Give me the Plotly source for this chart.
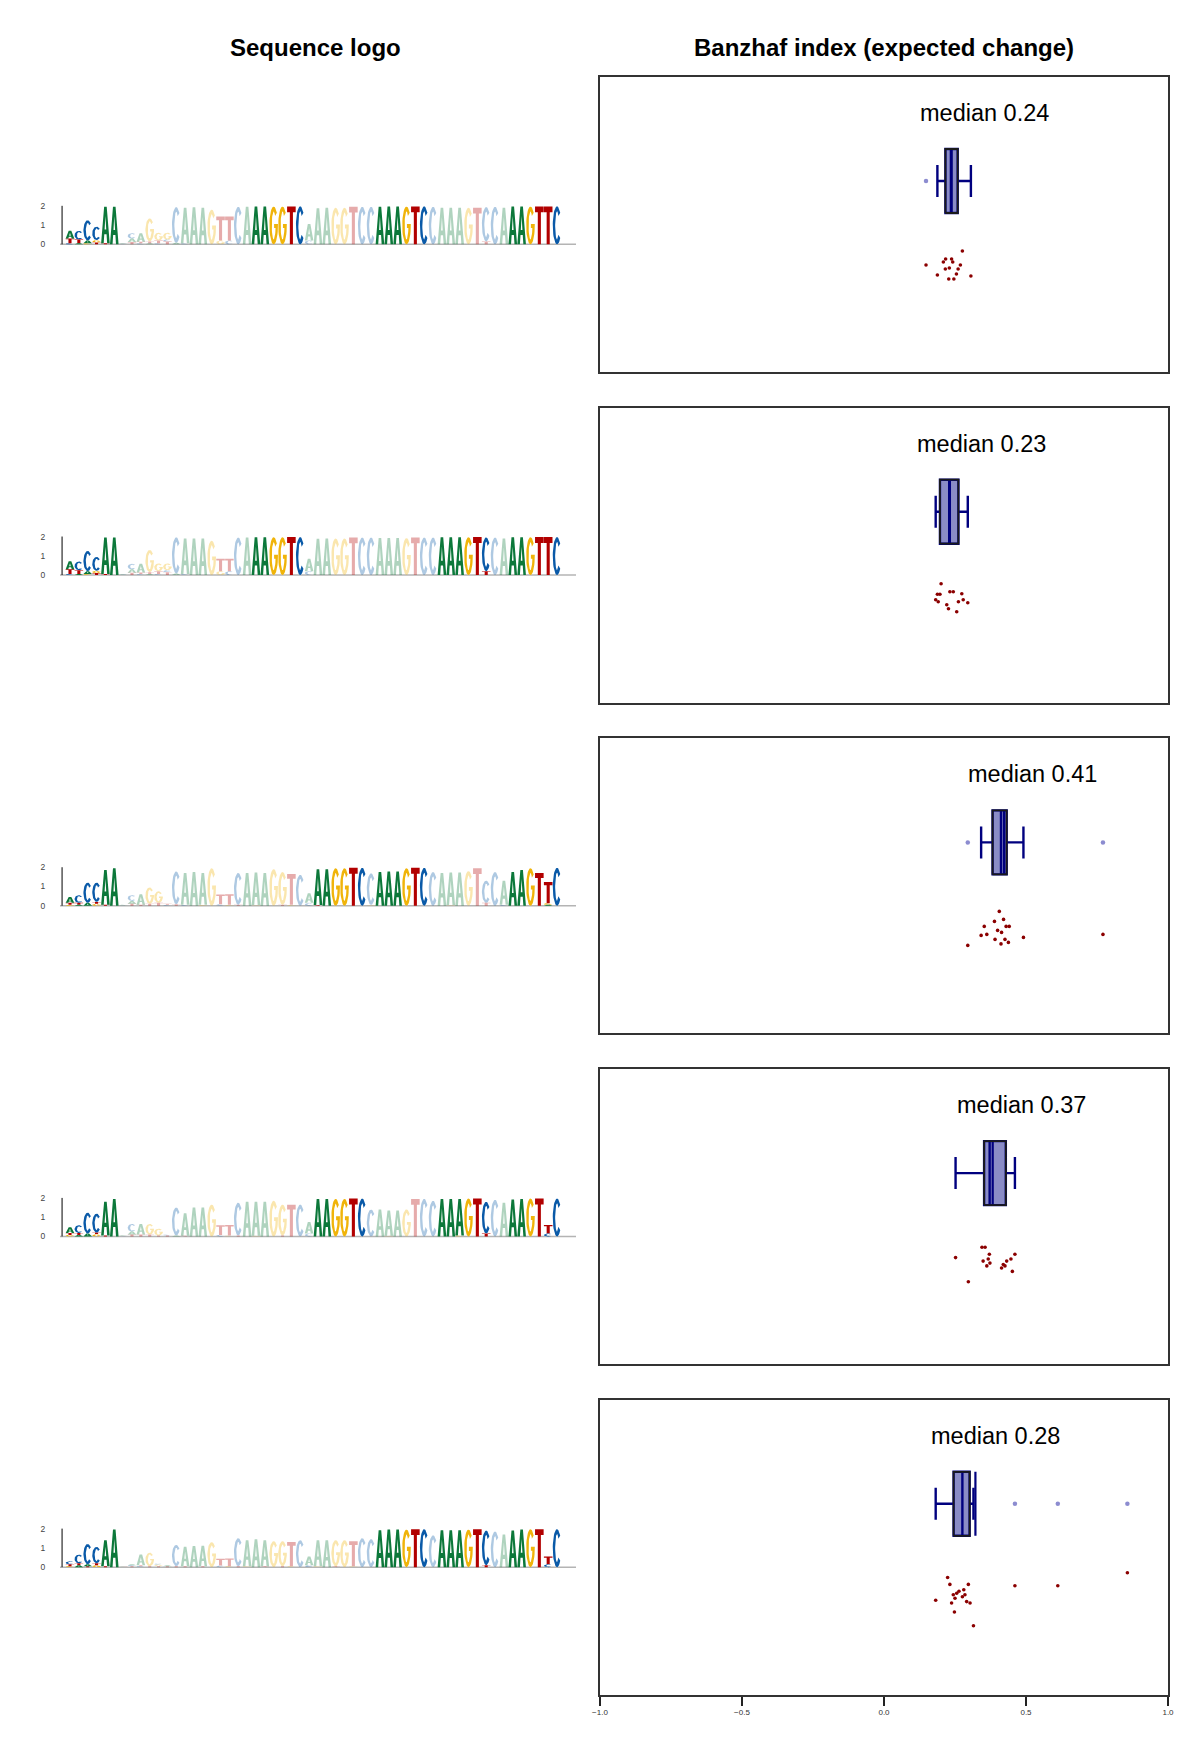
import numpy as np
import plotly.graph_objects as go

# ---------------- data ----------------
POSITIONS = list(range(1, 57))
BIT_TICKS = [0, 1, 2]
X_TICKS = [-1.0, -0.5, 0.0, 0.5, 1.0]
TITLES = ["Sequence logo", "Banzhaf index (expected change)"]

# letter stacks per position, bottom -> top, heights in hundredths of bits
LOGO_1 = [
    "C05 T25 A40", "A05 T20 C45", "G05 A15 C105", "T10 G12 C70", "T05 A190", "A195",
    "C03 A03", "T12 A18 C28", "C05 T08 A45", "A05 T10 G120", "C05 T15 G40", "T15 C10 G35",
    "A08 C185", "C05 A185", "A192", "A190", "G180", "G20 T125", "C20 T125",
    "C195", "A195", "A196", "A196", "G196", "G196", "T197", "C197",
    "C20 A85", "A188", "A190", "G190", "G190", "T195",
    "C195", "C195", "A195", "A196", "A196", "G196", "T197", "C197",
    "C195", "A190", "A190", "A190", "G190", "T190", "T15 C178",
    "C195", "A190", "A196", "A196", "G196", "T197", "T197", "C197"]
LOGO_2 = [
    "C05 T25 A42", "A05 T20 C45", "G05 A15 C105", "T10 G12 C72", "T05 A190", "A195",
    "C03 A03", "T12 A18 C28", "C05 T08 A45", "A05 T10 G115", "C05 T15 G40", "T15 C10 G35",
    "A08 C188", "C05 A185", "A190", "A190", "G178", "G20 T65", "C20 T65",
    "C195", "A195", "A196", "A196", "G196", "G196", "T197", "C197",
    "C20 A65", "A188", "A190", "G190", "G190", "T195",
    "C195", "C195", "A192", "A192", "A192", "G192", "T195", "C195",
    "C195", "A196", "A196", "A196", "G196", "T197", "T20 C175",
    "C195", "A190", "A196", "A196", "G196", "T197", "T197", "C197"]
LOGO_3 = [
    "G05 T10 A30", "A05 T10 C40", "A15 C105", "G10 T10 C100", "T05 A180", "A195",
    "C02 A03", "T10 A15 C30", "T05 A55", "T10 G85", "T15 G60", "C05 T05",
    "T08 C170", "C05 A165", "A175", "G05 A165", "G195", "C08 T50", "G05 T55",
    "T05 C165", "A170", "G04 A168", "A170", "G190", "T05 G170", "G05 T160", "C160",
    "C15 A50", "T04 A186", "A190", "G195", "G195", "T197",
    "C197", "G04 C164", "A175", "A178", "A178", "G195", "T197", "C197",
    "C175", "A170", "G04 A168", "A172", "G180", "T195", "T15 C115",
    "C175", "C05 A125", "A175", "A185", "G195", "T170", "A05 G08 T110", "C197"]
LOGO_4 = [
    "G08 T10 A30", "A08 T10 C40", "A15 C108", "G12 T08 C98", "T05 A175", "A195",
    "C02 A03", "T10 A15 C40", "T10 A55", "T10 G55", "T05 G35", "T05 C05",
    "A05 C145", "T04 A116", "A150", "A150", "G165", "C08 T50", "G05 T55",
    "T05 C170", "A180", "G04 A176", "A180", "G185", "T05 G160", "T165", "C165",
    "C15 A60", "A195", "A195", "G195", "G195", "T197",
    "C197", "C140", "A140", "G04 A131", "A135", "G140", "T195", "C195",
    "C185", "A195", "A195", "G05 A190", "G197", "T197", "T15 C165",
    "C190", "A175", "A192", "A195", "G197", "T197", "C15 T45", "C197"]
LOGO_5 = [
    "G05 T10 C15", "A10 T10 C45", "T05 A10 C105", "G10 T10 C85", "T05 A135", "A195",
    "T03 A02", "T05 C05 A05", "C05 T05 A55", "T05 G70", "T05 G08 C05", "T05 A05",
    "T05 C110", "T05 A101", "A110", "T05 A106", "G130", "C08 T35", "G05 T40",
    "T05 C145", "G04 A136", "A145", "T04 A136", "G135", "T05 G130", "G05 T125", "C140",
    "C10 A45", "G04 A136", "A140", "T04 G136", "G140", "G04 T131",
    "C150", "C145", "A192", "A195", "A195", "G195", "T197", "C197",
    "C165", "A192", "A192", "A192", "G195", "T197", "T10 C180",
    "C185", "A170", "A190", "A195", "G197", "T197", "C15 T40", "C197"]

# saturated (highlighted) position ranges per logo; all others are faded
SAT_1 = [(1, 6), (22, 27), (36, 41), (51, 56)]
SAT_2 = [(1, 6), (22, 27), (43, 48), (51, 56)]
SAT_3 = [(1, 6), (29, 34), (36, 41), (51, 56)]
SAT_4 = [(1, 6), (29, 34), (43, 48), (51, 56)]
SAT_5 = [(1, 6), (36, 41), (43, 48), (51, 56)]

# Banzhaf values per row and their vertical jitter
VALS_1 = [0.148, 0.188, 0.209, 0.216, 0.217, 0.228, 0.230, 0.238, 0.242, 0.246, 0.255, 0.261, 0.269, 0.276, 0.306]
JIT_1 = [-0.84, -0.94, -0.81, -0.88, -0.78, -0.98, -0.87, -0.78, -0.81, -0.98, -0.93, -0.88, -0.84, -0.70, -0.95]
VALS_2 = [0.182, 0.188, 0.191, 0.197, 0.201, 0.221, 0.227, 0.232, 0.244, 0.256, 0.262, 0.274, 0.279, 0.295]
JIT_2 = [-0.88, -0.825, -0.90, -0.825, -0.72, -0.93, -0.97, -0.80, -0.80, -1.00, -0.90, -0.82, -0.88, -0.91]
VALS_3 = [0.295, 0.342, 0.353, 0.362, 0.389, 0.391, 0.400, 0.406, 0.412, 0.414, 0.421, 0.426, 0.430, 0.438, 0.441, 0.491, 0.771]
JIT_3 = [-1.03, -0.93, -0.84, -0.92, -0.79, -0.97, -0.88, -0.69, -1.015, -0.90, -0.77, -0.97, -0.84, -1.00, -0.84, -0.95, -0.92]
VALS_4 = [0.252, 0.297, 0.345, 0.349, 0.356, 0.362, 0.367, 0.371, 0.373, 0.414, 0.420, 0.426, 0.432, 0.447, 0.452, 0.461]
JIT_4 = [-0.845, -1.087, -0.742, -0.88, -0.742, -0.928, -0.859, -0.811, -0.90, -0.949, -0.914, -0.928, -0.88, -0.859, -0.983, -0.811]
VALS_5 = [0.182, 0.224, 0.232, 0.238, 0.244, 0.248, 0.250, 0.256, 0.264, 0.276, 0.281, 0.285, 0.291, 0.297, 0.303, 0.315, 0.461, 0.612, 0.857]
JIT_5 = [-0.964, -0.737, -0.806, -0.992, -0.909, -1.082, -0.944, -0.895, -0.874, -0.93, -0.86, -0.909, -0.978, -0.806, -0.992, -1.22, -0.82, -0.82, -0.69]
MEDIAN_LABELS = [0.24, 0.23, 0.41, 0.37, 0.28]

LOGOS = [LOGO_1, LOGO_2, LOGO_3, LOGO_4, LOGO_5]
SATS = [SAT_1, SAT_2, SAT_3, SAT_4, SAT_5]
VALS = [VALS_1, VALS_2, VALS_3, VALS_4, VALS_5]
JITS = [JIT_1, JIT_2, JIT_3, JIT_4, JIT_5]

# ---------------- styles ----------------
FONT = "Liberation Sans, Arial, Helvetica, sans-serif"
BASE_RGB = {"A": (12, 120, 58), "C": (10, 90, 168), "G": (240, 180, 10), "T": (178, 0, 0)}
FADE_ALPHA = 0.33
LETTER_W = 0.97
BOX_HALF = 0.32
W, H = 1200, 1750
ROW_TOP = [77.0, 407.7, 738.4, 1069.1, 1399.8]
ROW_H = 295.0


def arc(cx, cy, rx, ry, a0, a1, n=36):
    t = np.radians(np.linspace(a0, a1, n))
    return list(zip(cx + rx * np.cos(t), cy + ry * np.sin(t)))


GLYPHS = {
    "A": [[(0, 0), (0.3, 0), (0.37, 0.25), (0.63, 0.25), (0.7, 0), (1, 0), (0.65, 1), (0.35, 1)],
          [(0.405, 0.38), (0.5, 0.75), (0.595, 0.38)]],
    "C": [arc(.5, .5, .5, .5, 42, 318) + arc(.5, .5, .22, .37, 318, 42)],
    "G": [arc(.5, .5, .5, .5, 42, 350) + [(1, 0.41), (1, 0.54), (0.55, 0.54), (0.55, 0.43), (0.72, 0.43)]
          + arc(.5, .5, .22, .37, 350, 42)],
    "T": [[(0, 1), (0, 0.845), (0.32, 0.845), (0.32, 0), (0.68, 0), (0.68, 0.845), (1, 0.845), (1, 1)]],
}


def parse(stack):
    return [(tok[0], int(tok[1:]) / 100.0) for tok in stack.split()]


def rgba(letter, sat):
    r, g, b = BASE_RGB[letter]
    return f"rgba({r},{g},{b},{1.0 if sat else FADE_ALPHA})"


def ax_id(n):
    return "" if n == 1 else str(n)


fig = go.Figure()
layout = dict(width=W, height=H, autosize=False,
              margin=dict(l=0, r=0, t=0, b=0, pad=0, autoexpand=False),
              paper_bgcolor="white", plot_bgcolor="white", showlegend=False,
              font=dict(family=FONT, color="black"))
shapes, annotations = [], []

for i in range(5):
    li, ri = 2 * i + 1, 2 * i + 2
    lx, ly = "x" + ax_id(li), "y" + ax_id(li)
    rx, ry = "x" + ax_id(ri), "y" + ax_id(ri)
    y1 = 1 - ROW_TOP[i] / H
    y0 = 1 - (ROW_TOP[i] + ROW_H) / H

    # ---- sequence logo ----
    groups = {}
    for p, stack in zip(POSITIONS, LOGOS[i]):
        sat = any(a <= p <= b for a, b in SATS[i])
        base = 0.0
        for letter, h in parse(stack):
            xs, ys = groups.setdefault((letter, sat), ([], []))
            for poly in GLYPHS[letter]:
                for gx, gy in poly:
                    xs.append(p - LETTER_W / 2 + gx * LETTER_W)
                    ys.append(base + gy * h)
                xs.append(None)
                ys.append(None)
            base += h
    for (letter, sat), (xs, ys) in groups.items():
        col = rgba(letter, sat)
        fig.add_trace(go.Scatter(x=xs, y=ys, xaxis=lx, yaxis=ly, mode="lines",
                                 fill="toself", fillcolor=col,
                                 line=dict(width=0, color=col), hoverinfo="skip"))

    layout["xaxis" + ax_id(li)] = dict(domain=[0.05, 0.48], range=[-0.129, 58.14], visible=False,
                                       anchor=ly, fixedrange=True, automargin=False)
    layout["yaxis" + ax_id(li)] = dict(domain=[y0, y1], range=[-6.63, 8.69], anchor=lx,
                                       tickvals=BIT_TICKS, ticks="outside", ticklen=12,
                                       tickcolor="rgba(0,0,0,0)", showgrid=False, zeroline=False,
                                       showline=False, automargin=False,
                                       tickfont=dict(size=8.5, color="#444"))
    shapes.append(dict(type="line", xref=f"{lx} domain", yref=ly, x0=0, x1=1, y0=0, y1=0,
                       line=dict(color="#b4b4b4", width=1.5), layer="below"))
    shapes.append(dict(type="line", xref=f"{lx} domain", yref=ly, x0=0.004, x1=0.004, y0=0, y1=2,
                       line=dict(color="black", width=1)))

    # ---- Banzhaf box ----
    vals = np.array(VALS[i])
    fig.add_trace(go.Box(x=vals, y=[0] * len(vals), xaxis=rx, yaxis=ry, orientation="h",
                         boxpoints="outliers", width=2 * BOX_HALF, whiskerwidth=0.5,
                         fillcolor="#8a8cc6", line=dict(color="#00007f", width=2.4),
                         marker=dict(color="#8c8cd0", size=4.5), hoverinfo="skip"))
    mean = float(vals.mean())
    fig.add_trace(go.Scatter(x=[mean, mean], y=[-BOX_HALF, BOX_HALF], xaxis=rx, yaxis=ry,
                             mode="lines", line=dict(color="#00007f", width=2.2), hoverinfo="skip"))
    q1, q3 = np.quantile(vals, [0.25, 0.75], method="hazen")
    fig.add_trace(go.Scatter(x=[q1, q3, q3, q1, q1],
                             y=[-BOX_HALF, -BOX_HALF, BOX_HALF, BOX_HALF, -BOX_HALF],
                             xaxis=rx, yaxis=ry, mode="lines",
                             line=dict(color="#1a1a1a", width=1.8), hoverinfo="skip"))
    fig.add_trace(go.Scatter(x=vals, y=JITS[i], xaxis=rx, yaxis=ry, mode="markers",
                             marker=dict(color="#8b0000", size=3.6), hoverinfo="skip"))
    last = i == 4
    layout["xaxis" + ax_id(ri)] = dict(domain=[0.5, 0.97333], range=[-1, 1], anchor=ry,
                                       showgrid=False, zeroline=False, showline=True, mirror=True,
                                       linecolor="#333", linewidth=1.5, automargin=False,
                                       tickvals=X_TICKS if last else [], tickformat=".1f",
                                       ticks="outside" if last else "", ticklen=9, tickwidth=1.5,
                                       tickcolor="#222", showticklabels=last,
                                       tickfont=dict(size=8, color="#333"))
    layout["yaxis" + ax_id(ri)] = dict(domain=[y0, y1], range=[-1.91, 1.04], anchor=rx,
                                       showgrid=False, zeroline=False, showline=True, mirror=True,
                                       linecolor="#333", linewidth=1.5, automargin=False,
                                       showticklabels=False, ticks="")
    m = MEDIAN_LABELS[i]
    annotations.append(dict(x=m, y=0.68, xref=rx, yref=ry, text=f"median {m:.2f}",
                            showarrow=False, xanchor="center", yanchor="middle", xshift=32,
                            font=dict(size=23.5, color="black", family=FONT)))

annotations.append(dict(x=316 / W, y=1 - 47 / H, xref="paper", yref="paper", text=f"<b>{TITLES[0]}</b>",
                        showarrow=False, xanchor="center", yanchor="middle",
                        font=dict(size=24, color="black", family=FONT)))
annotations.append(dict(x=884 / W, y=1 - 47 / H, xref="paper", yref="paper", text=f"<b>{TITLES[1]}</b>",
                        showarrow=False, xanchor="center", yanchor="middle",
                        font=dict(size=24, color="black", family=FONT)))

layout["shapes"] = shapes
layout["annotations"] = annotations
fig.update_layout(**layout)
fig.write_html("out.html", config={"responsive": False},
               post_script="document.body.style.margin='0px';")
